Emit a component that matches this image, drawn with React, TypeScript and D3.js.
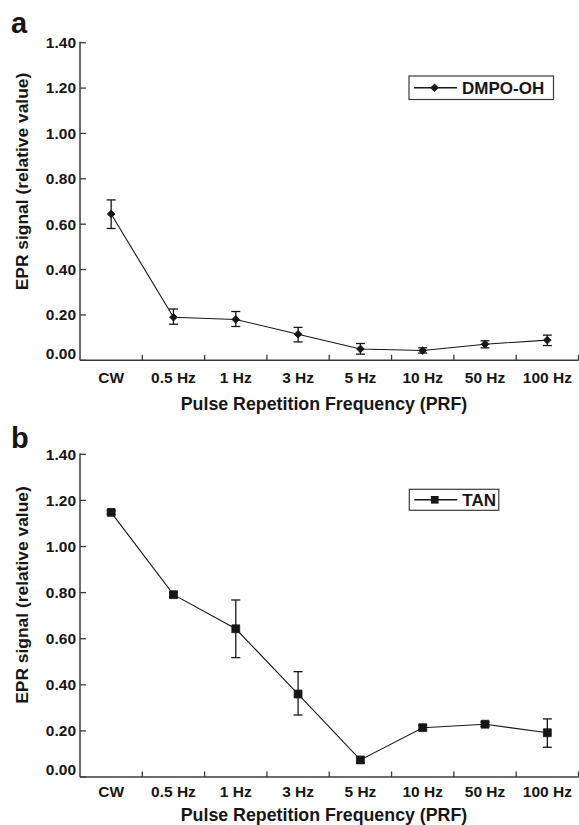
import React from "react";
import * as d3 from "d3";

const categories = ["CW", "0.5 Hz", "1 Hz", "3 Hz", "5 Hz", "10 Hz", "50 Hz", "100 Hz"];
const yTicks = [0, 0.2, 0.4, 0.6, 0.8, 1.0, 1.2, 1.4];

const dmpoMean = [0.645, 0.19, 0.18, 0.115, 0.05, 0.043, 0.071, 0.089];
const dmpoLow = [0.581, 0.159, 0.149, 0.081, 0.027, 0.032, 0.055, 0.065];
const dmpoHigh = [0.707, 0.226, 0.215, 0.145, 0.074, 0.055, 0.086, 0.111];

const tanMean = [1.148, 0.791, 0.643, 0.36, 0.074, 0.214, 0.229, 0.192];
const tanLow = [1.14, 0.78, 0.518, 0.269, 0.062, 0.205, 0.22, 0.129];
const tanHigh = [1.156, 0.8, 0.768, 0.457, 0.086, 0.224, 0.238, 0.252];

const W = 579;
const H = 825;
const FONT = "'Liberation Sans', Arial, Helvetica, sans-serif";
const INK = "#161616";
const AXIS = "#3a3a3a";

type PanelProps = {
  letter: string;
  top: number;
  bottom: number;
  mean: number[];
  low: number[];
  high: number[];
  marker: "diamond" | "square";
  legend: string;
  legendBox: { x: number; y: number; w: number; h: number };
  tickLabelDy: number;
  letterY: number;
  titleY: number;
  yTitleCenter: number;
};

function Panel(p: PanelProps) {
  const x = d3.scaleBand<string>().domain(categories).range([80, 578.5]).padding(0);
  const y = d3.scaleLinear().domain([0, 1.4]).range([p.bottom, p.top]);
  const cx = (c: string) => (x(c) as number) + x.bandwidth() / 2;
  const line = d3
    .line<number>()
    .x((_, i) => cx(categories[i]))
    .y((v) => y(v));
  const sym =
    p.marker === "diamond"
      ? d3.symbol().type(d3.symbolSquare).size(30)
      : d3.symbol().type(d3.symbolSquare).size(62);
  const legSym =
    p.marker === "diamond"
      ? d3.symbol().type(d3.symbolSquare).size(38)
      : d3.symbol().type(d3.symbolSquare).size(58);
  const rot = p.marker === "diamond" ? " rotate(45)" : "";
  const capW = 4.5;
  const lb = p.legendBox;
  return (
    <g>
      <text x={11} y={p.letterY} fontFamily={FONT} fontWeight="bold" fontSize={29} fill={INK}>
        {p.letter}
      </text>
      {/* y axis */}
      <line x1={80} x2={80} y1={p.top - 1} y2={p.bottom} stroke={AXIS} strokeWidth={1.5} />
      {yTicks.map((t) => (
        <g key={t}>
          <line x1={80} x2={86} y1={y(t)} y2={y(t)} stroke={AXIS} strokeWidth={1.3} />
          <text
            x={76}
            y={y(t) + (t === 0 ? -7 : 0)}
            dy="0.35em"
            textAnchor="end"
            fontFamily={FONT}
            fontWeight="bold"
            fontSize={15.5}
            fill={INK}
          >
            {t.toFixed(2)}
          </text>
        </g>
      ))}
      {/* x axis */}
      <line x1={80} x2={578.5} y1={p.bottom} y2={p.bottom} stroke={AXIS} strokeWidth={1.5} />
      {categories.slice(1).map((c) => (
        <line
          key={c}
          x1={x(c) as number}
          x2={x(c) as number}
          y1={p.bottom}
          y2={p.bottom - 5.5}
          stroke={AXIS}
          strokeWidth={1.3}
        />
      ))}
      <line x1={578.5} x2={578.5} y1={p.bottom} y2={p.bottom - 5.5} stroke={AXIS} strokeWidth={1.3} />
      {categories.map((c) => (
        <text
          key={c}
          x={cx(c)}
          y={p.bottom + p.tickLabelDy}
          textAnchor="middle"
          fontFamily={FONT}
          fontWeight="bold"
          fontSize={15.5}
          fill={INK}
        >
          {c}
        </text>
      ))}
      <text
        x={324}
        y={p.titleY}
        textAnchor="middle"
        fontFamily={FONT}
        fontWeight="bold"
        fontSize={17.8}
        fill={INK}
      >
        Pulse Repetition Frequency (PRF)
      </text>
      <text
        transform={`translate(28,${p.yTitleCenter}) rotate(-90)`}
        textAnchor="middle"
        fontFamily={FONT}
        fontWeight="bold"
        fontSize={17.4}
        fill={INK}
      >
        EPR signal (relative value)
      </text>
      {/* data line */}
      <path d={line(p.mean) || ""} fill="none" stroke={INK} strokeWidth={1.1} />
      {/* error bars */}
      {categories.map((c, i) => (
        <g key={c} stroke={INK} strokeWidth={1.3}>
          <line x1={cx(c)} x2={cx(c)} y1={y(p.low[i])} y2={y(p.high[i])} />
          <line x1={cx(c) - capW} x2={cx(c) + capW} y1={y(p.low[i])} y2={y(p.low[i])} />
          <line x1={cx(c) - capW} x2={cx(c) + capW} y1={y(p.high[i])} y2={y(p.high[i])} />
        </g>
      ))}
      {categories.map((c, i) => (
        <path
          key={c}
          d={sym() || ""}
          transform={`translate(${cx(c)},${y(p.mean[i])})${rot}`}
          fill={INK}
          stroke={INK}
          strokeWidth={0.8}
        />
      ))}
      {/* legend */}
      <rect x={lb.x} y={lb.y} width={lb.w} height={lb.h} fill="#fff" stroke={AXIS} strokeWidth={1.2} />
      <line x1={lb.x + 5} x2={lb.x + 48} y1={lb.y + lb.h / 2} y2={lb.y + lb.h / 2} stroke={INK} strokeWidth={1.5} />
      <path
        d={legSym() || ""}
        transform={`translate(${lb.x + 25.5},${lb.y + lb.h / 2})${rot}`}
        fill={INK}
      />
      <text
        x={lb.x + 53}
        y={lb.y + lb.h / 2}
        dy="0.36em"
        fontFamily={FONT}
        fontWeight="bold"
        fontSize={17}
        fill={INK}
      >
        {p.legend}
      </text>
    </g>
  );
}

export default function App() {
  return (
    <svg
      width={W}
      height={H}
      viewBox={`0 0 ${W} ${H}`}
      style={{ position: "absolute", left: 0, top: 0, background: "#fff" }}
    >
      <rect width={W} height={H} fill="#fff" />
      <Panel
        letter="a"
        top={42.7}
        bottom={360.3}
        mean={dmpoMean}
        low={dmpoLow}
        high={dmpoHigh}
        marker="diamond"
        legend="DMPO-OH"
        legendBox={{ x: 409, y: 76, w: 144.5, h: 23.5 }}
        tickLabelDy={22.4}
        letterY={33}
        titleY={410}
        yTitleCenter={181.5}
      />
      <Panel
        letter="b"
        top={454.3}
        bottom={777}
        mean={tanMean}
        low={tanLow}
        high={tanHigh}
        marker="square"
        legend="TAN"
        legendBox={{ x: 409.3, y: 489.3, w: 89.5, h: 21 }}
        tickLabelDy={19.8}
        letterY={448}
        titleY={820.5}
        yTitleCenter={595}
      />
    </svg>
  );
}
